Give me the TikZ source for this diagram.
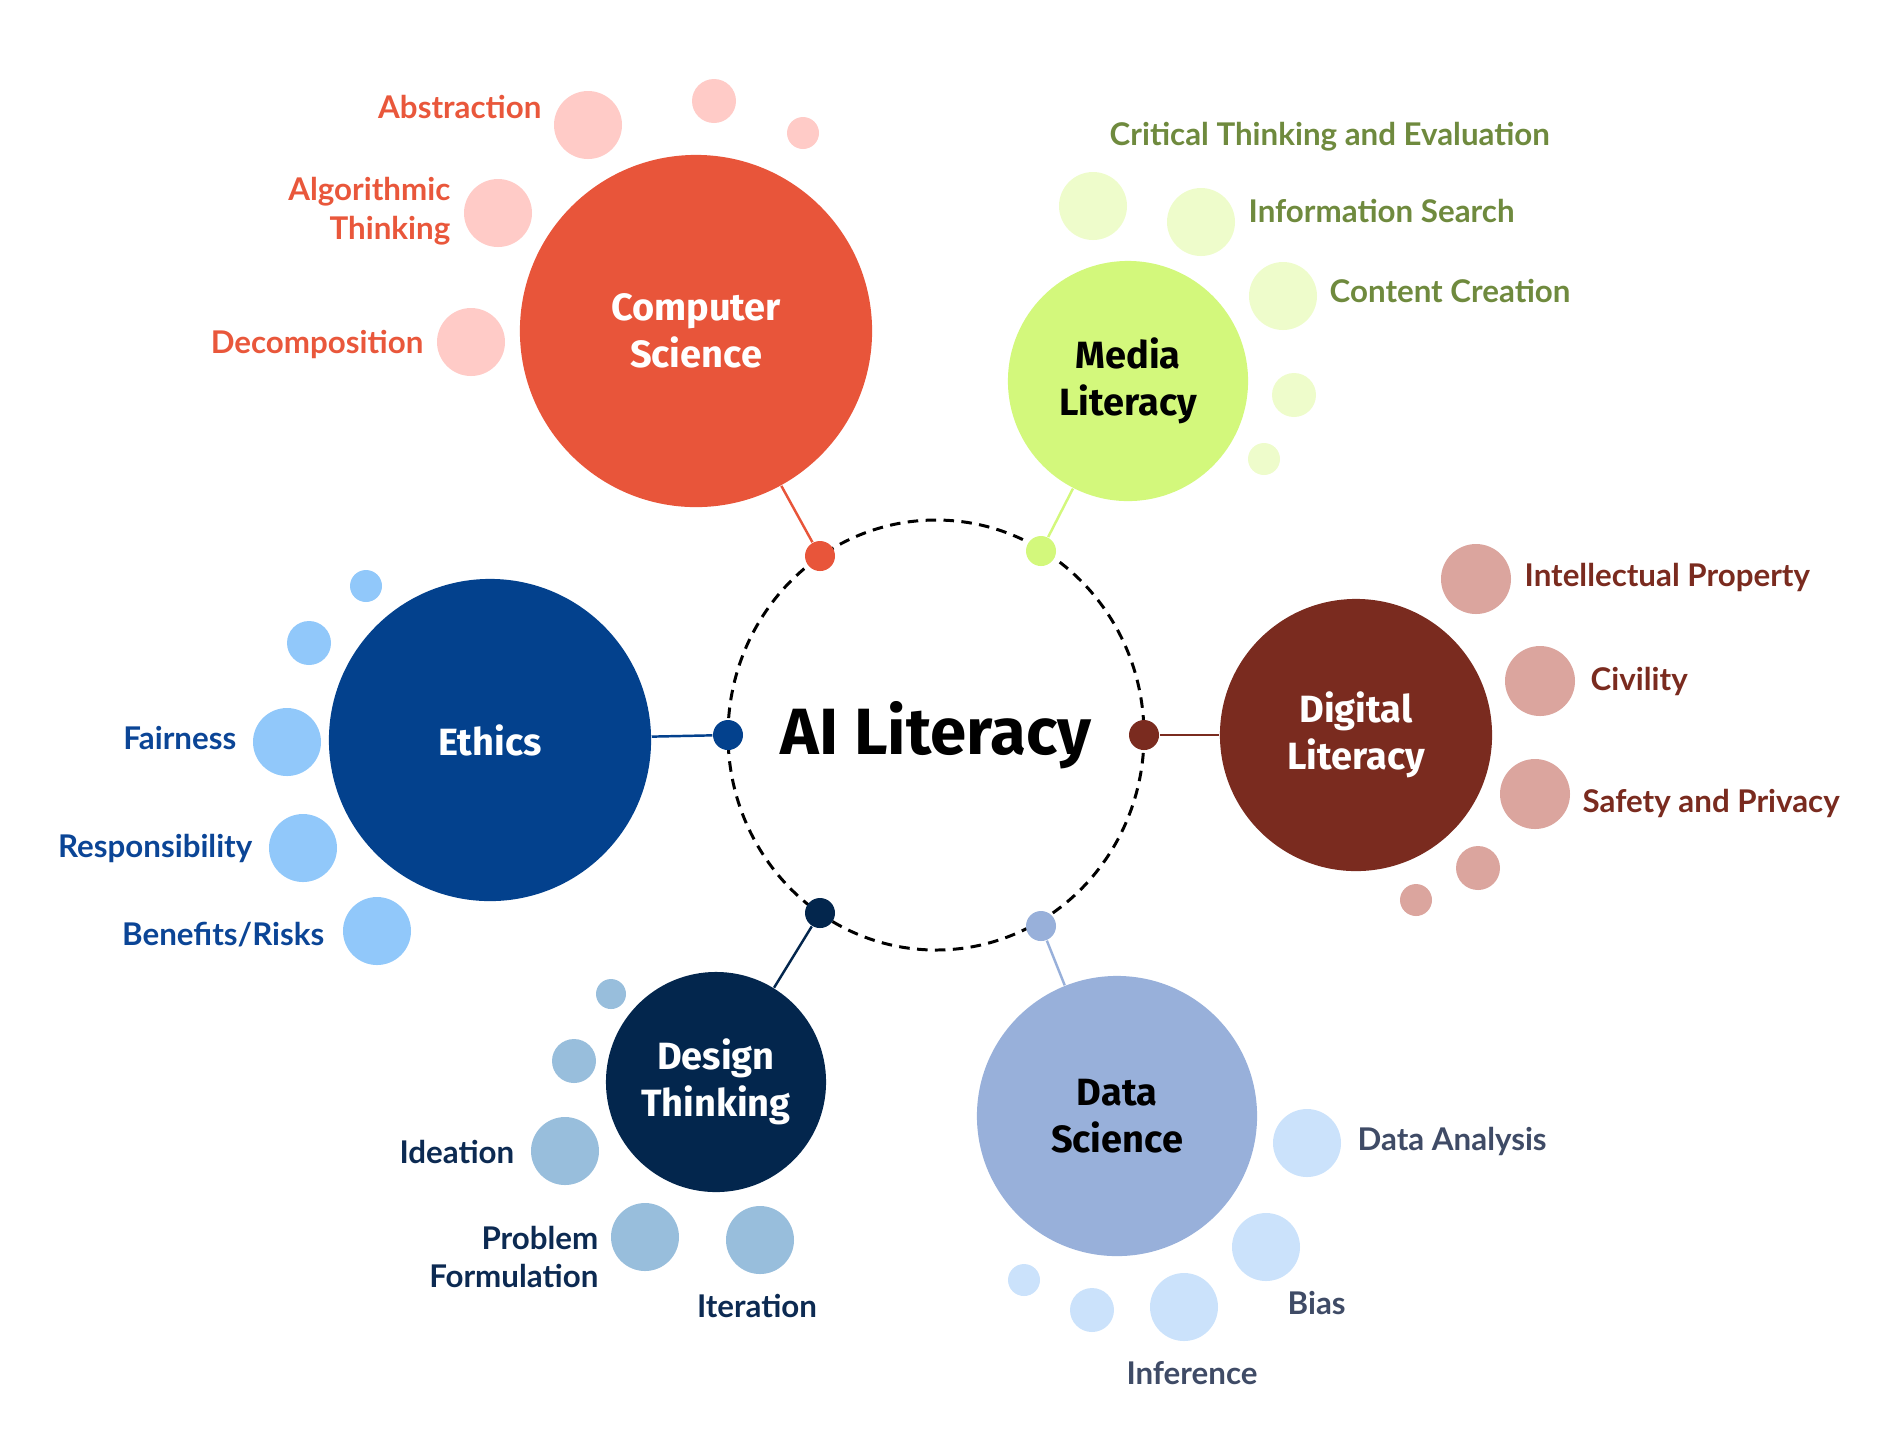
\documentclass[tikz,border=0pt]{standalone}
\usepackage{fontspec}
\setmainfont{Lato}
\newfontfamily\hubfont{Fira Sans}

\definecolor{csfill}{HTML}{E8553A}
\definecolor{cstext}{HTML}{E9573B}
\definecolor{csbub}{HTML}{FFCBC7}
\definecolor{mlfill}{HTML}{D3F87C}
\definecolor{mltext}{HTML}{6F8A3E}
\definecolor{mlbub}{HTML}{EEFCCB}
\definecolor{etfill}{HTML}{03418D}
\definecolor{ettext}{HTML}{0B4596}
\definecolor{etbub}{HTML}{91C8FA}
\definecolor{dlfill}{HTML}{7A2B1F}
\definecolor{dltext}{HTML}{7A2B1F}
\definecolor{dlbub}{HTML}{DBA59E}
\definecolor{dtfill}{HTML}{03264D}
\definecolor{dttext}{HTML}{0C2A52}
\definecolor{dtbub}{HTML}{98BEDC}
\definecolor{dsfill}{HTML}{98B0DA}
\definecolor{dstext}{HTML}{3F4B66}
\definecolor{dsbub}{HTML}{CBE2FB}

\begin{document}
\begin{tikzpicture}[x=0.01cm, y=-0.01cm,
    hub/.style={circle, inner sep=0pt, align=center,
      font=\hubfont\bfseries\fontsize{10.8}{13.4}\selectfont},
    dot/.style={circle, inner sep=0pt, minimum size=0.3cm},
    lbl/.style={inner sep=0pt, font=\bfseries\fontsize{8.9}{11}\selectfont},
    link/.style={line width=0.7pt}]
  \useasboundingbox (0,0) rectangle (1900,1444);

  % centre
  \draw[line width=0.85pt, dash pattern=on 3pt off 2.1pt] (936,735) ellipse [x radius=208, y radius=215];
  \node (ai) at (936,735) [font=\hubfont\bfseries\fontsize{18.6}{22}\selectfont] {AI Literacy};

  % main circles
  \node (cs) at (696,331) [hub, fill=csfill, text=white, minimum size=3.52cm] {Computer\\Science};
  \node (ml) at (1128,381) [hub, fill=mlfill, text=black, minimum size=2.4cm] {Media\\Literacy};
  \node (et) at (490,740) [hub, fill=etfill, text=white, minimum size=3.22cm] {Ethics};
  \node (dl) at (1356,735) [hub, fill=dlfill, text=white, minimum size=2.72cm] {Digital\\Literacy};
  \node (dt) at (716,1082) [hub, fill=dtfill, text=white, minimum size=2.2cm] {Design\\Thinking};
  \node (ds) at (1117,1116) [hub, fill=dsfill, text=black, minimum size=2.8cm] {Data\\Science};

  % dots on the ring
  \node (csdot) at (820,556) [dot, fill=csfill] {};
  \node (mldot) at (1041,551) [dot, fill=mlfill] {};
  \node (etdot) at (728,735) [dot, fill=etfill] {};
  \node (dldot) at (1144,735) [dot, fill=dlfill] {};
  \node (dtdot) at (820,913) [dot, fill=dtfill] {};
  \node (dsdot) at (1041,926) [dot, fill=dsfill] {};

  \draw[link, csfill] (csdot) -- (cs);
  \draw[link, mlfill] (mldot) -- (ml);
  \draw[link, etfill] (etdot) -- (et);
  \draw[link, dlfill] (dldot) -- (dl);
  \draw[link, dtfill] (dtdot) -- (dt);
  \draw[link, dsfill] (dsdot) -- (ds);

  % computer science
  \fill[csbub] (588,125) circle (34);
  \fill[csbub] (714,101) circle (22);
  \fill[csbub] (803,133) circle (16);
  \fill[csbub] (498,213) circle (34);
  \fill[csbub] (471,342) circle (34);
  \node (abs) at (542,107) [lbl, cstext, anchor=east] {Abstraction};
  \node (alg) at (451,211) [lbl, cstext, anchor=east, align=right] {Algorithmic\\Thinking};
  \node (dec) at (424,344) [lbl, cstext, anchor=east] {Decomposition};

  % media literacy
  \fill[mlbub] (1093,206) circle (34);
  \fill[mlbub] (1201,222) circle (34);
  \fill[mlbub] (1283,296) circle (34);
  \fill[mlbub] (1294,395) circle (22);
  \fill[mlbub] (1264,459) circle (16);
  \node (crit) at (1109,137) [lbl, mltext, anchor=west] {Critical Thinking and Evaluation};
  \node (info) at (1248,211) [lbl, mltext, anchor=west] {Information Search};
  \node (cont) at (1329,291) [lbl, mltext, anchor=west] {Content Creation};

  % ethics
  \fill[etbub] (366,586) circle (16);
  \fill[etbub] (309,643) circle (22);
  \fill[etbub] (287,742) circle (34);
  \fill[etbub] (303,848) circle (34);
  \fill[etbub] (377,931) circle (34);
  \node (fair) at (237,738) [lbl, ettext, anchor=east] {Fairness};
  \node (resp) at (253,848) [lbl, ettext, anchor=east] {Responsibility};
  \node (bene) at (325,935) [lbl, ettext, anchor=east] {Benefits/Risks};

  % digital literacy
  \fill[dlbub] (1476,579) circle (35);
  \fill[dlbub] (1540,681) circle (35);
  \fill[dlbub] (1535,794) circle (35);
  \fill[dlbub] (1478,868) circle (22);
  \fill[dlbub] (1416,900) circle (16);
  \node (ip) at (1524,577) [lbl, dltext, anchor=west] {Intellectual Property};
  \node (civ) at (1590,681) [lbl, dltext, anchor=west] {Civility};
  \node (safe) at (1582,803) [lbl, dltext, anchor=west] {Safety and Privacy};

  % design thinking
  \fill[dtbub] (611,994) circle (15);
  \fill[dtbub] (574,1061) circle (22);
  \fill[dtbub] (565,1151) circle (34);
  \fill[dtbub] (645,1237) circle (34);
  \fill[dtbub] (760,1240) circle (34);
  \node (idea) at (515,1152) [lbl, dttext, anchor=east] {Ideation};
  \node (prob) at (599,1257) [lbl, dttext, anchor=east, align=right] {Problem\\Formulation};
  \node (iter) at (757,1306) [lbl, dttext] {Iteration};

  % data science
  \fill[dsbub] (1307,1143) circle (34);
  \fill[dsbub] (1266,1247) circle (34);
  \fill[dsbub] (1184,1307) circle (34);
  \fill[dsbub] (1092,1310) circle (22);
  \fill[dsbub] (1024,1280) circle (16);
  \node (ana) at (1357,1141) [lbl, dstext, anchor=west] {Data Analysis};
  \node (bias) at (1287,1303) [lbl, dstext, anchor=west] {Bias};
  \node (inf) at (1192,1373) [lbl, dstext] {Inference};
\end{tikzpicture}
\end{document}
